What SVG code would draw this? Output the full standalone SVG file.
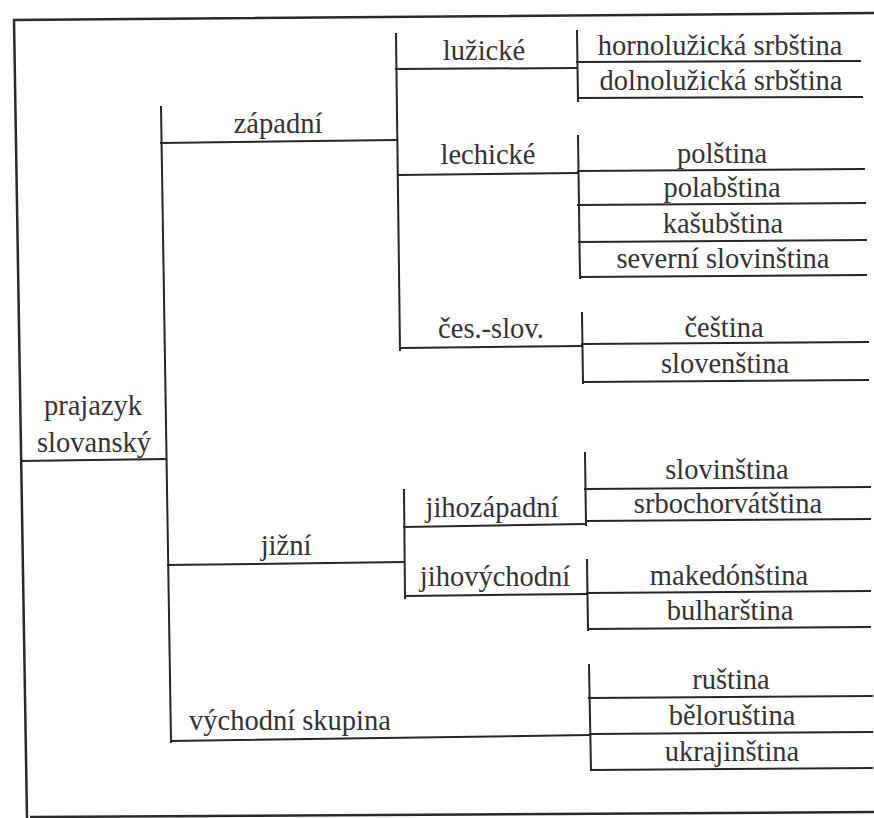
<svg xmlns="http://www.w3.org/2000/svg" width="874" height="818" viewBox="0 0 874 818">
<style>
  .ln { stroke: #262626; stroke-width: 2; fill: none; stroke-linecap: square; }
  .fr { stroke: #2a2a2a; stroke-width: 2.5; fill: none; }
  .t text { font-size: 28.5px; fill: #333333; text-anchor: middle; }
</style>
<rect x="0" y="0" width="874" height="818" fill="#ffffff"/>
<g id="frame">
  <path class="fr" d="M874,13 L14,20 L27,818"/>
  <path class="fr" d="M30,817 L874,812"/>
</g>
<g id="connectors">
  <path class="ln" d="M21,461 L165,459"/>
  <path class="ln" d="M161,107 L171,742"/>
  <path class="ln" d="M161,143 L396,140"/>
  <path class="ln" d="M168,565 L404,562"/>
  <path class="ln" d="M171,741 L589,735"/>
  <path class="ln" d="M396,34 L400,350"/>
  <path class="ln" d="M404,490 L405,598"/>
  <path class="ln" d="M396,69 L577,68"/>
  <path class="ln" d="M398,175 L578,173"/>
  <path class="ln" d="M400,348 L582,346"/>
  <path class="ln" d="M404,527 L585,524"/>
  <path class="ln" d="M405,596 L587,594"/>
  <path class="ln" d="M577,31 L578,101"/>
  <path class="ln" d="M578,136 L580,278"/>
  <path class="ln" d="M582,313 L583,383"/>
  <path class="ln" d="M585,453 L586,525"/>
  <path class="ln" d="M587,560 L588,630"/>
  <path class="ln" d="M589,665 L591,770"/>
  <path class="ln" d="M577,62 L860,61"/>
  <path class="ln" d="M578,98 L862,97"/>
  <path class="ln" d="M578,171 L864,169"/>
  <path class="ln" d="M578,205 L865,203"/>
  <path class="ln" d="M579,242 L866,240"/>
  <path class="ln" d="M580,277 L866,275"/>
  <path class="ln" d="M582,344 L868,342"/>
  <path class="ln" d="M583,382 L868,380"/>
  <path class="ln" d="M585,489 L870,487"/>
  <path class="ln" d="M586,521 L870,519"/>
  <path class="ln" d="M587,593 L870,591"/>
  <path class="ln" d="M588,629 L870,627"/>
  <path class="ln" d="M589,698 L872,696"/>
  <path class="ln" d="M590,734 L872,732"/>
  <path class="ln" d="M591,770 L872,768"/>
</g>
<g class="t" font-family="Liberation Serif, Times New Roman, serif">
<g id="n-root"><text x="93" y="415">prajazyk</text><text x="94" y="452">slovanský</text></g>
<g id="n-zapadni"><text x="278" y="133">západní</text></g>
<g id="n-jizni"><text x="286" y="555">jižní</text></g>
<g id="n-vychodni"><text x="290" y="730">východní skupina</text></g>
<g id="n-luzicke"><text x="484" y="60">lužické</text></g>
<g id="n-lechicke"><text x="488" y="164">lechické</text></g>
<g id="n-cesslov"><text x="491" y="338">čes.-slov.</text></g>
<g id="n-jihozapadni"><text x="492" y="517">jihozápadní</text></g>
<g id="n-jihovychodni"><text x="495" y="586">jihovýchodní</text></g>
<g id="n-hornoluz"><text x="720" y="55">hornolužická srbština</text></g>
<g id="n-dolnoluz"><text x="721" y="90">dolnolužická srbština</text></g>
<g id="n-polstina"><text x="722" y="163">polština</text></g>
<g id="n-polabstina"><text x="722" y="197">polabština</text></g>
<g id="n-kasubstina"><text x="723" y="233">kašubština</text></g>
<g id="n-sevslov"><text x="723" y="268">severní slovinština</text></g>
<g id="n-cestina"><text x="724" y="337">čeština</text></g>
<g id="n-slovenstina"><text x="725" y="373">slovenština</text></g>
<g id="n-slovinstina"><text x="727" y="479">slovinština</text></g>
<g id="n-srbochorv"><text x="728" y="513">srbochorvátština</text></g>
<g id="n-makedon"><text x="729" y="585">makedónština</text></g>
<g id="n-bulhar"><text x="730" y="620">bulharština</text></g>
<g id="n-rustina"><text x="731" y="689">ruština</text></g>
<g id="n-belorus"><text x="732" y="725">běloruština</text></g>
<g id="n-ukrajin"><text x="732" y="761">ukrajinština</text></g>
</g>
</svg>
